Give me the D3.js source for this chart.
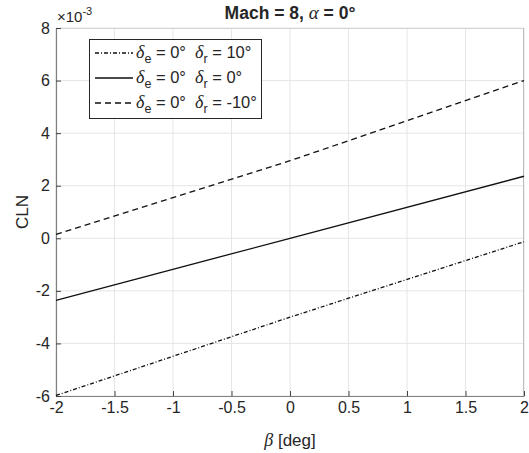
<!DOCTYPE html>
<html>
<head>
<meta charset="utf-8">
<script src="https://cdn.jsdelivr.net/npm/d3@7"></script>
<style>
  html, body { margin: 0; padding: 0; background: #fff; }
  svg { display: block; }
  text { font-family: "Liberation Sans", Arial, sans-serif; fill: #262626; white-space: pre; -webkit-font-smoothing: antialiased; }
  tspan { fill: inherit; }
  .greek { font-family: "Liberation Serif", "DejaVu Serif", serif; font-style: italic; }
</style>
</head>
<body>
<svg id="chart" width="529" height="453"></svg>
<script>
// Yawing-moment coefficient CLN (×10^-3) versus sideslip β, Mach 8, α = 0°
const beta = [-2, 0, 2];
const clnRudderPos10 = [-5.98, -3.0, -0.13];
const clnRudder0 = [-2.36, 0.0, 2.36];
const clnRudderNeg10 = [0.15, 2.95, 6.0];

const xTicks = [-2, -1.5, -1, -0.5, 0, 0.5, 1, 1.5, 2];
const yTicks = [-6, -4, -2, 0, 2, 4, 6, 8];

const seriesNames = [
  { de: "0°", dr: "10°" },
  { de: "0°", dr: "0°" },
  { de: "0°", dr: "-10°" }
];
const seriesValues = [clnRudderPos10, clnRudder0, clnRudderNeg10];
const dashes = ["4,2,1,2", null, "6,4"];

const svg = d3.select("#chart");
const plotL = 56, plotR = 524, plotT = 28, plotB = 396;

const x = d3.scaleLinear().domain([-2, 2]).range([plotL, plotR]);
const y = d3.scaleLinear().domain([-6, 8]).range([plotB, plotT]);

// grid
const grid = svg.append("g");
grid.selectAll("line.gx").data(xTicks).join("line")
  .attr("x1", d => x(d)).attr("x2", d => x(d))
  .attr("y1", plotT).attr("y2", plotB)
  .attr("stroke", "#e6e6e6").attr("stroke-width", 1);
grid.selectAll("line.gy").data(yTicks).join("line")
  .attr("x1", plotL).attr("x2", plotR)
  .attr("y1", d => y(d)).attr("y2", d => y(d))
  .attr("stroke", "#e6e6e6").attr("stroke-width", 1);

// box top/right
svg.append("line").attr("x1", plotL).attr("x2", plotR).attr("y1", plotT + 0.5).attr("y2", plotT + 0.5)
  .attr("stroke", "#d4d4d4");
svg.append("line").attr("x1", plotR - 0.5).attr("x2", plotR - 0.5).attr("y1", plotT).attr("y2", plotB)
  .attr("stroke", "#bdbdbd");

// axes
const tickFmt = d => String(d);
const xAxis = d3.axisBottom(x).tickValues(xTicks).tickSizeInner(-5).tickSizeOuter(0).tickFormat(tickFmt);
const gx = svg.append("g").attr("transform", `translate(0,${plotB})`).call(xAxis);
gx.select(".domain").attr("stroke", "#808080").attr("stroke-width", 1.2);
gx.selectAll(".tick line").attr("stroke", "#404040");
gx.selectAll(".tick text").attr("y", 6).attr("font-size", 16)
  .attr("font-family", "Liberation Sans, Arial, sans-serif").attr("fill", "#262626");

const yAxis = d3.axisLeft(y).tickValues(yTicks).tickSizeInner(-5).tickSizeOuter(0).tickFormat(tickFmt);
const gy = svg.append("g").attr("transform", `translate(${plotL},0)`).call(yAxis);
gy.select(".domain").attr("stroke", "#808080").attr("stroke-width", 1.2);
gy.selectAll(".tick line").attr("stroke", "#404040");
gy.selectAll(".tick text").attr("x", -6).attr("font-size", 16)
  .attr("font-family", "Liberation Sans, Arial, sans-serif").attr("fill", "#262626");

// exponent
const ex = svg.append("text").attr("x", plotL + 1).attr("y", 22).attr("font-size", 15);
ex.append("tspan").text("×10");
ex.append("tspan").attr("dy", -7).attr("font-size", 11).text("-3");

// lines
const line = d3.line().x((d, i) => x(beta[i])).y(d => y(d));
seriesValues.forEach((vals, k) => {
  svg.append("path").datum(vals)
    .attr("d", line)
    .attr("fill", "none")
    .attr("stroke", "#111")
    .attr("stroke-width", 1.3)
    .attr("stroke-dasharray", dashes[k]);
});

// legend
const lg = svg.append("g");
const lgLeft = 89, lgTop = 39, rowH = 25;
const box = lg.append("rect");
let textEnd = 0;
seriesNames.forEach((s, k) => {
  const cy = lgTop + 14 + k * rowH;
  lg.append("line").attr("x1", lgLeft + 6).attr("x2", lgLeft + 44)
    .attr("y1", cy).attr("y2", cy)
    .attr("stroke", "#111").attr("stroke-width", 1.3)
    .attr("stroke-dasharray", dashes[k]);
  const t = lg.append("text").attr("x", lgLeft + 47).attr("y", cy + 5)
    .attr("font-size", 16.5).attr("fill", "#262626");
  t.append("tspan").attr("class", "greek").attr("font-size", 18).text("δ");
  t.append("tspan").attr("dy", 5).attr("font-size", 12.5).text("e");
  t.append("tspan").attr("dy", -5).text(" = " + s.de + "  ");
  t.append("tspan").attr("class", "greek").attr("font-size", 18).text("δ");
  t.append("tspan").attr("dy", 5).attr("font-size", 12.5).text("r");
  t.append("tspan").attr("dy", -5).text(" = " + s.dr);
  const bb = t.node().getBBox();
  textEnd = Math.max(textEnd, bb.x + bb.width);
});
box.attr("x", lgLeft + 0.5).attr("y", lgTop + 0.5)
  .attr("width", Math.round(textEnd + 4 - lgLeft)).attr("height", rowH * 3 + 4)
  .attr("fill", "#fff").attr("stroke", "#262626").attr("stroke-width", 1);

// title
const title = svg.append("text").attr("x", 290).attr("y", 19)
  .attr("text-anchor", "middle").attr("font-size", 17.5).attr("font-weight", "bold").attr("fill", "#000");
title.append("tspan").text("Mach = 8, ");
title.append("tspan").attr("class", "greek").attr("font-weight", "normal").attr("font-size", 19).text("α");
title.append("tspan").text(" = 0°");

// axis labels
const xl = svg.append("text").attr("x", 290).attr("y", 446).attr("text-anchor", "middle").attr("font-size", 17);
xl.append("tspan").attr("class", "greek").attr("font-size", 18).text("β");
xl.append("tspan").text(" [deg]");

svg.append("text").attr("transform", `translate(28,${(plotT + plotB) / 2}) rotate(-90)`)
  .attr("text-anchor", "middle").attr("font-size", 17).text("CLN");
</script>
</body>
</html>
